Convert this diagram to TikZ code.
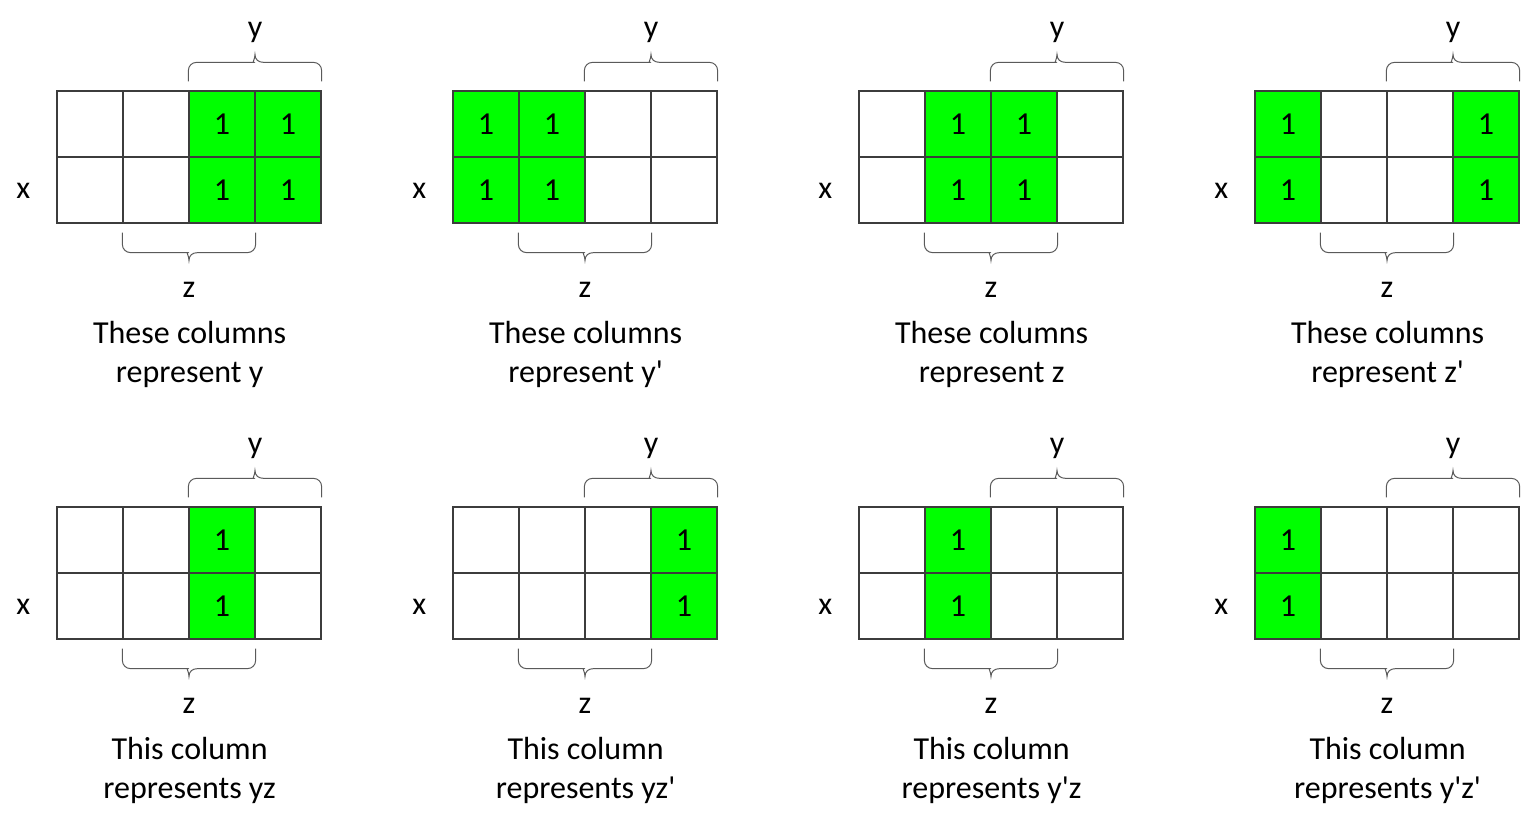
\documentclass[tikz,border=0pt]{standalone}
\usepackage{fontspec}
\setmainfont{Carlito}
\usetikzlibrary{calc}

\definecolor{verdeK}{RGB}{0,255,0}
\definecolor{bordeK}{RGB}{60,60,60}
\definecolor{llaveK}{RGB}{90,90,90}

\newcommand{\prima}{\textquotesingle}

\tikzset{
celda/.style={draw=bordeK,line width=1.2pt,minimum size=66pt,inner sep=0pt,font=\fontsize{32}{38}\selectfont},
celdaUno/.style={celda,fill=verdeK},
llave/.style={draw=llaveK,line width=1pt},
etiqueta/.style={font=\fontsize{32}{38}\selectfont,inner sep=0pt,anchor=base},
leyenda/.style={font=\fontsize{32}{38}\selectfont,inner sep=0pt,anchor=base}
}

% #1 nombre, #2 dx, #3 dy, #4 columnas vacias, #5 columnas con 1, #6 #7 leyenda
\newcommand{\mapaK}[7]{
\begin{scope}[shift={(#2,#3)}]
\foreach \c in {#4}{
  \foreach \r in {1,2}{
    \node[celda] (#1-\r\c) at (24+66*\c,763-66*\r) {};
  }
}
\foreach \c in {#5}{
  \foreach \r in {1,2}{
    \node[celdaUno] (#1-\r\c) at (24+66*\c,763-66*\r) {1};
  }
}
% llave de y
\coordinate (#1-ya) at ([yshift=9pt]#1-13.north west);
\coordinate (#1-yb) at ([yshift=9pt]#1-14.north east);
\coordinate (#1-yt) at ($(#1-ya)!0.5!(#1-yb)+(0,27)$);
\draw[llave] (#1-ya) [rounded corners=8pt] |- ([xshift=-9pt,yshift=-8pt]#1-yt)
  [sharp corners] .. controls +(6,0) and +(0,-5) .. (#1-yt)
  .. controls +(0,-5) and +(-6,0) .. ([xshift=9pt,yshift=-8pt]#1-yt)
  [rounded corners=8pt] -| (#1-yb);
\node[etiqueta] (#1-y) at ([yshift=17pt]#1-yt) {y};
% llave de z
\coordinate (#1-za) at ([yshift=-9pt]#1-22.south west);
\coordinate (#1-zb) at ([yshift=-9pt]#1-23.south east);
\coordinate (#1-zt) at ($(#1-za)!0.5!(#1-zb)+(0,-28)$);
\draw[llave] (#1-za) [rounded corners=8pt] |- ([xshift=-9pt,yshift=8pt]#1-zt)
  [sharp corners] .. controls +(6,0) and +(0,5) .. (#1-zt)
  .. controls +(0,5) and +(-6,0) .. ([xshift=9pt,yshift=8pt]#1-zt)
  [rounded corners=8pt] -| (#1-zb);
\node[etiqueta] (#1-z) at ([yshift=-37pt]#1-zt) {z};
\node[etiqueta] (#1-x) at ([xshift=-33pt,yshift=-9pt]#1-21.west) {x};
% leyenda
\node[leyenda] (#1-l1) at ([yshift=-120pt]#1-22.south east) {#6};
\node[leyenda] (#1-l2) at ([yshift=-159pt]#1-22.south east) {#7};
\end{scope}
}

\begin{document}
\begin{tikzpicture}[x=1pt,y=1pt]
    \useasboundingbox (0,0) rectangle (1522,821);

    \mapaK{a}{0}{0}{1,2}{3,4}{These columns}{represent y}
    \mapaK{b}{396}{0}{3,4}{1,2}{These columns}{represent y\prima}
    \mapaK{c}{802}{0}{1,4}{2,3}{These columns}{represent z}
    \mapaK{d}{1198}{0}{2,3}{1,4}{These columns}{represent z\prima}

    \mapaK{e}{0}{-416}{1,2,4}{3}{This column}{represents yz}
    \mapaK{f}{396}{-416}{1,2,3}{4}{This column}{represents yz\prima}
    \mapaK{g}{802}{-416}{1,3,4}{2}{This column}{represents y\prima{}z}
    \mapaK{h}{1198}{-416}{2,3,4}{1}{This column}{represents y\prima{}z\prima}
\end{tikzpicture}
\end{document}
